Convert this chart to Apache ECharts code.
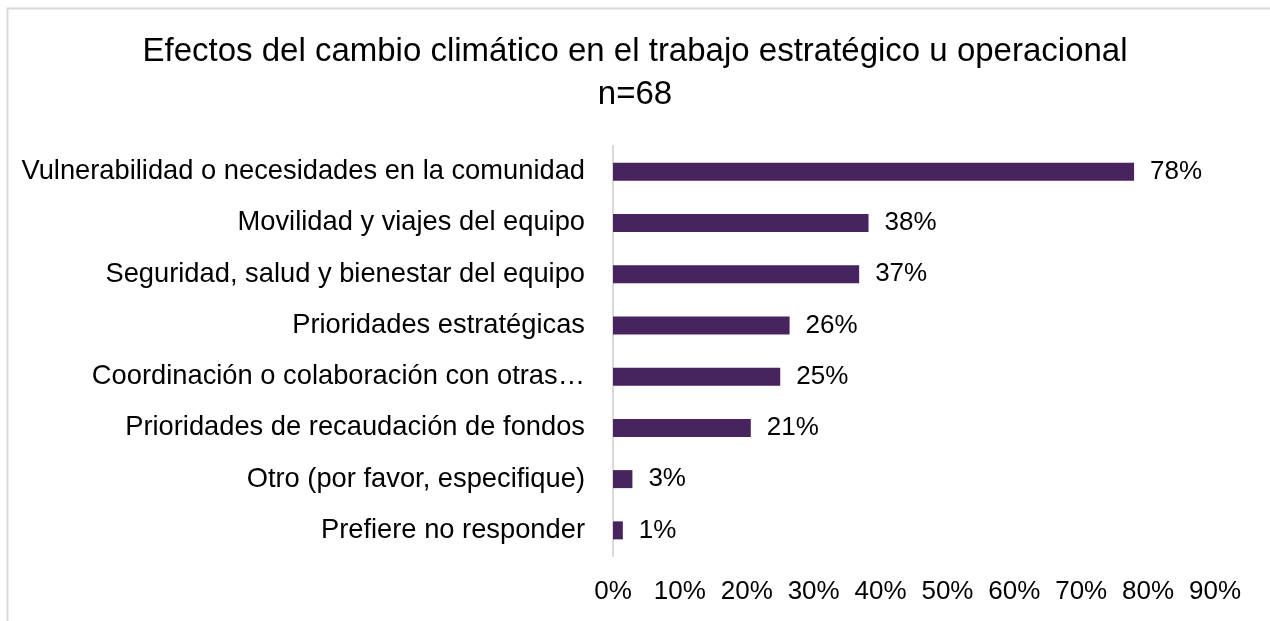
<!DOCTYPE html>
<html>
<head>
<meta charset="utf-8">
<script src="https://cdn.jsdelivr.net/npm/echarts@6/dist/echarts.min.js"></script>
<style>
  html, body { margin: 0; padding: 0; background: #fff; }
  #chart { width: 1270px; height: 621px; }
</style>
</head>
<body>
<div id="chart"></div>
<script>
const categories = [
  "Vulnerabilidad o necesidades en la comunidad",
  "Movilidad y viajes del equipo",
  "Seguridad, salud y bienestar del equipo",
  "Prioridades estratégicas",
  "Coordinación o colaboración con otras…",
  "Prioridades de recaudación de fondos",
  "Otro (por favor, especifique)",
  "Prefiere no responder"
]
// porcentajes (n=68)
const values = [77.9, 38.2, 36.8, 26.4, 25.0, 20.6, 2.9, 1.47]
const barColor = "#472360"
const fontFamily = "'Liberation Sans', Arial, sans-serif"

const myChart = echarts.init(document.getElementById("chart"))

myChart.setOption({
  animation: false,
  textStyle: { fontFamily: fontFamily },
  title: {
    text: "Efectos del cambio climático en el trabajo estratégico u operacional\nn=68",
    left: "center",
    top: 25,
    textStyle: {
      fontFamily: fontFamily,
      fontSize: 33,
      fontWeight: "normal",
      color: "#000",
      lineHeight: 43
    }
  },
  graphic: [
    {
      // borde exterior del gráfico
      type: "rect",
      left: 5,
      top: 6,
      shape: { width: 1300, height: 700 },
      style: { fill: "none", stroke: "#d9d9d9", lineWidth: 2 },
      silent: true
    }
  ],
  grid: {
    left: 613,
    right: 55,
    top: 146,
    bottom: 65
  },
  xAxis: {
    type: "value",
    min: 0,
    max: 90,
    interval: 10,
    splitLine: { show: false },
    axisLine: { show: false },
    axisTick: { show: false },
    axisLabel: {
      formatter: "{value}%",
      color: "#000",
      fontSize: 26,
      margin: 23
    }
  },
  yAxis: {
    type: "category",
    inverse: true,
    data: categories,
    axisLine: { show: true, lineStyle: { color: "#d9d9d9", width: 2 } },
    axisTick: { show: false },
    axisLabel: {
      color: "#000",
      fontSize: 27.3,
      margin: 28
    }
  },
  series: [
    {
      type: "bar",
      data: values,
      barWidth: 18,
      itemStyle: { color: barColor },
      label: {
        show: true,
        position: "right",
        distance: 16,
        formatter: (p) => Math.round(p.value) + "%",
        color: "#000",
        fontSize: 26
      }
    }
  ]
})
</script>
</body>
</html>
